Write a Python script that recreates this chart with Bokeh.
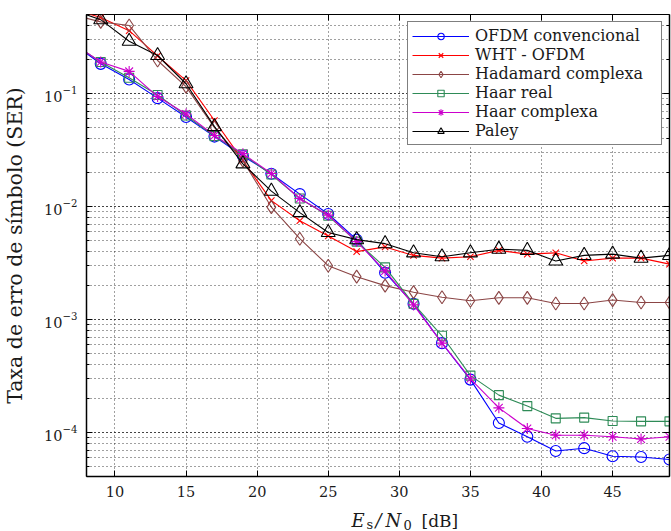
from bokeh.plotting import figure
from bokeh.layouts import column
from bokeh.models import (Range1d, Legend, LegendItem, LinearAxis, LogAxis,
                          FixedTicker, LogTicker, CustomJSTickFormatter)
from bokeh.core.properties import value
from bokeh.embed import file_html
from bokeh.resources import INLINE

# ---- data ----
snr_db = [7, 9, 11, 13, 15, 17, 19, 21, 23, 25, 27, 29, 31, 33, 35, 37, 39, 41, 43, 45, 47, 49]

ofdm_conv = [0.28, 0.183, 0.133, 0.091, 0.062, 0.0416, 0.028, 0.0195, 0.0129, 0.0086, 0.0051,
             0.0026, 0.00138, 0.00062, 0.000295, 0.000122, 9.2e-5, 6.9e-5, 7.3e-5, 6.2e-5, 6.1e-5, 5.8e-5]
wht_ofdm = [0.56, 0.47, 0.36, 0.215, 0.13, 0.0577, 0.0255, 0.0113, 0.0075, 0.0055, 0.0040,
            0.0044, 0.0037, 0.0035, 0.0036, 0.0041, 0.0038, 0.0039, 0.0033, 0.0035, 0.0035, 0.0031]
hadamard_cx = [0.5, 0.43, 0.40, 0.196, 0.115, 0.050, 0.0255, 0.0099, 0.0052, 0.0030, 0.0024,
               0.0020, 0.00175, 0.00158, 0.00147, 0.00156, 0.00156, 0.00139, 0.00139, 0.00149, 0.00142, 0.00142]
haar_real = [0.28, 0.19, 0.138, 0.097, 0.064, 0.042, 0.029, 0.0192, 0.0118, 0.0083, 0.0049,
             0.0029, 0.00138, 0.00072, 0.00032, 0.000215, 0.000172, 0.000134, 0.000136, 0.000127, 0.000126, 0.000126]
haar_cx = [0.28, 0.19, 0.157, 0.094, 0.066, 0.0425, 0.0294, 0.0196, 0.0118, 0.0084, 0.0049,
           0.0027, 0.00135, 0.00062, 0.0003, 0.000166, 0.000109, 9.5e-5, 9.5e-5, 9.2e-5, 8.8e-5, 9.2e-5]
paley = [0.55, 0.45, 0.29, 0.217, 0.122, 0.051, 0.0239, 0.0137, 0.00885, 0.0059, 0.0051,
         0.0047, 0.0039, 0.0036, 0.0039, 0.0042, 0.0041, 0.0033, 0.0037, 0.0038, 0.0035, 0.0037]

series_names = ["OFDM convencional", "WHT - OFDM", "Hadamard complexa",
                "Haar real", "Haar complexa", "Paley"]
series_values = [ofdm_conv, wht_ofdm, hadamard_cx, haar_real, haar_cx, paley]
series_colors = ["#0000FF", "#FF0000", "#8B4545", "#2E8B57", "#CC00CC", "#000000"]
series_markers = ["circle", "x", "diamond", "square", "asterisk", "triangle"]
series_sizes = [11, 9, 13, 9, 11, 14]

x_ticks = [10, 15, 20, 25, 30, 35, 40, 45]
x_lim = (8, 49)
y_lim = (4.1e-5, 0.5)

FONT = "DejaVu Serif"
TXT = "#1a1a1a"

p = figure(width=671, height=505, y_axis_type="log",
           x_range=Range1d(*x_lim), y_range=Range1d(*y_lim),
           output_backend="svg", toolbar_location=None,
           min_border_left=84, min_border_top=14, min_border_bottom=29, min_border_right=2)

p.background_fill_color = "white"
p.border_fill_color = "white"
p.outline_line_color = "black"
p.outline_line_width = 1

# grids (dotted)
GRID = "#111111"
p.xgrid.ticker = FixedTicker(ticks=x_ticks)
p.xgrid.grid_line_color = GRID
p.xgrid.grid_line_dash = "1 3"
p.xgrid.grid_line_alpha = 0.8
p.ygrid.grid_line_color = GRID
p.ygrid.grid_line_dash = "1 3"
p.ygrid.grid_line_alpha = 0.8
p.ygrid.minor_grid_line_color = GRID
p.ygrid.minor_grid_line_dash = "1 3"
p.ygrid.minor_grid_line_alpha = 0.8

# axes
p.xaxis.ticker = FixedTicker(ticks=x_ticks)
for ax in (p.xaxis[0], p.yaxis[0]):
    ax.axis_line_color = "black"
    ax.axis_line_width = 1.5
    ax.major_tick_in = 6
    ax.major_tick_out = 0
    ax.minor_tick_in = 3
    ax.minor_tick_out = 0
    ax.major_tick_line_color = "black"
    ax.minor_tick_line_color = "black"
    ax.major_label_text_font = FONT
    ax.major_label_text_font_size = "14.5px"
    ax.major_label_text_color = TXT
p.xaxis.minor_tick_line_color = None
p.xaxis.major_label_standoff = 9
p.yaxis.major_label_standoff = 9

p.yaxis.axis_label = "Taxa de erro de símbolo (SER)"
p.yaxis.axis_label_text_font = FONT
p.yaxis.axis_label_text_font_size = "20.5px"
p.yaxis.axis_label_text_font_style = "normal"
p.yaxis.axis_label_text_color = TXT
p.yaxis.axis_label_standoff = 14

# top/right tick-only axes (ticks on all sides of the box)
top_ax = LinearAxis(ticker=FixedTicker(ticks=x_ticks), major_tick_in=6, major_tick_out=0,
                    minor_tick_line_color=None, axis_line_color=None,
                    major_label_overrides={t: "" for t in x_ticks}, major_label_standoff=0)
p.add_layout(top_ax, "above")
right_ax = LogAxis(ticker=LogTicker(), major_tick_in=6, major_tick_out=0, minor_tick_in=3,
                   minor_tick_out=0, axis_line_color="black", axis_line_width=1.5,
                   major_label_standoff=0,
                   formatter=CustomJSTickFormatter(code="return ''"))
p.add_layout(right_ax, "right")

items = []
for name, vals, col, mk, sz in zip(series_names, series_values, series_colors,
                                    series_markers, series_sizes):
    lr = p.line(snr_db, vals, line_color=col, line_width=1.1)
    sr = p.scatter(snr_db, vals, marker=mk, size=sz, line_color=col, fill_alpha=0,
                   line_width=1.1)
    items.append(LegendItem(label=name, renderers=[lr, sr]))

legend = Legend(items=items, location="top_right", padding=4, margin=7,
                spacing=0, glyph_width=57, glyph_height=16, label_height=16,
                label_width=182, label_standoff=6,
                label_text_font=FONT, label_text_font_size="16px",
                label_text_color=TXT,
                border_line_color="black", border_line_width=1,
                background_fill_color="white", background_fill_alpha=1)
p.add_layout(legend)

# x-axis label strip: E_s / N_0 [dB] assembled from pieces
lab = figure(width=671, height=26, x_range=p.x_range, y_range=Range1d(0, 26),
             output_backend="svg", toolbar_location=None,
             x_axis_type=None, y_axis_type=None,
             min_border_left=84, min_border_right=2, min_border_top=0, min_border_bottom=0)
lab.outline_line_color = None
lab.background_fill_color = "white"
lab.border_fill_color = "white"
x0 = x_lim[0] + (350 - 84) / (585.0 / (x_lim[1] - x_lim[0]))
pieces = [("E", 0, 11, "18px", "italic"),
          ("s", 15, 7, "13px", "normal"),
          ("/", 24, 11, "18px", "italic"),
          ("N", 34, 11, "18px", "italic"),
          ("0", 52, 7, "13px", "normal"),
          ("[dB]", 70, 11, "17px", "normal")]
for txt, dx, yy, fs, st in pieces:
    lab.text(x=[x0], y=[yy], text=[txt], x_offset=dx, text_font=value(FONT),
             text_font_size=fs, text_font_style=st, text_color=TXT,
             text_baseline="alphabetic", text_align="left")

open("out.html", "w").write(file_html(column(p, lab, spacing=0), INLINE))
